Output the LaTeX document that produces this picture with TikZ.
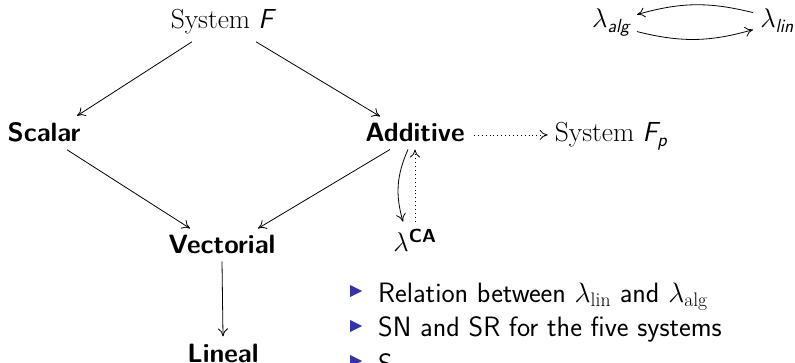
\RequirePackage{fix-cm}
\documentclass[tikz,border=0pt]{standalone}
\usepackage{amsmath}
\usepackage{fontspec}
\usetikzlibrary{arrows.meta}
\definecolor{bulletblue}{rgb}{0.2,0.2,0.7}
\tikzset{
  every node/.style={inner sep=7pt},
  rmtext/.style={font=\fontsize{27.5}{33}\selectfont\rmfamily},
  sftext/.style={font=\fontsize{27}{33}\selectfont\sffamily},
  bultext/.style={font=\fontsize{28}{34}\selectfont\sffamily, anchor=base west, inner sep=0pt},
  bftext/.style={font=\fontsize{26.5}{32}\selectfont\sffamily\bfseries},
  arr/.style={-{To[length=8pt,width=10pt]}, line width=0.8pt},
  dotarr/.style={arr, dash pattern=on 0.9pt off 3pt},
}
\newcommand{\sfit}[1]{\text{\sffamily\itshape #1}}
\begin{document}
\begin{tikzpicture}[x=1pt,y=-1pt]
\useasboundingbox (0,0) rectangle (795,363);
\clip (0,0) rectangle (795,363);
% main nodes
\node[rmtext, anchor=base] (sysF) at (222,29) {System $\sfit{F}$};
\node[bftext, anchor=base] (scalar) at (44,142) {Scalar};
\node[bftext, anchor=base] (additive) at (415,142) {Additive};
\node[rmtext, anchor=base] (sysFp) at (611,142) {System $\sfit{F}_{\sfit{p}}$};
\node[bftext, anchor=base] (vect) at (222,254) {Vectorial};
\node[bftext, anchor=base] (lineal) at (223,362) {Lineal};
\node[sftext, anchor=base] (lca) at (415,252) {$\lambda^{\text{\sffamily\bfseries CA}}$};
\node[sftext, anchor=base] (lalg) at (611,28) {$\lambda_{\sfit{alg}}$};
\node[sftext, anchor=base] (llin) at (777,28) {$\lambda_{\sfit{lin}}$};
% connectors
\draw[arr] ([xshift=-30pt]sysF.south) -- ([xshift=33pt]scalar.north);
\draw[arr] ([xshift=34pt]sysF.south) -- ([xshift=-35pt]additive.north);
\draw[arr] ([xshift=23pt]scalar.south) -- ([xshift=-32pt]vect.north);
\draw[arr] ([xshift=-25pt]additive.south) -- ([xshift=36pt]vect.north);
\draw[arr] (vect.south) -- (lineal.north);
\draw[dotarr] ([yshift=-2pt,xshift=2pt]additive.east) -- ([yshift=-2pt]additive.east -| sysFp.west);
\draw[arr] ([xshift=-7pt]additive.south) to[bend right=20] ([xshift=-12pt]lca.north);
\draw[dotarr] (lca.north) -- (lca.north |- additive.south);
\draw[arr] ([yshift=8pt]llin.west) to[bend right=15] ([yshift=8pt]lalg.east);
\draw[arr] ([yshift=-9pt]lalg.east) to[bend right=15] ([yshift=-9pt]llin.west);
% bullets
\coordinate (b1) at (356,291);
\coordinate (b2) at (356,326);
\coordinate (b3) at (356,361);
\foreach \b in {b1,b2,b3}
  \fill[bulletblue] (\b) ++(-6,-6) -- ++(12,6) -- ++(-12,6) -- cycle;
\node[bultext] (t1) at (378,302) {Relation between $\lambda_{\mathrm{lin}}$ and $\lambda_{\mathrm{alg}}$};
\node[bultext] (t2) at (378,337) {SN and SR for the five systems};
\node[bultext] (t3) at (378,373) {S};
\end{tikzpicture}
\end{document}
